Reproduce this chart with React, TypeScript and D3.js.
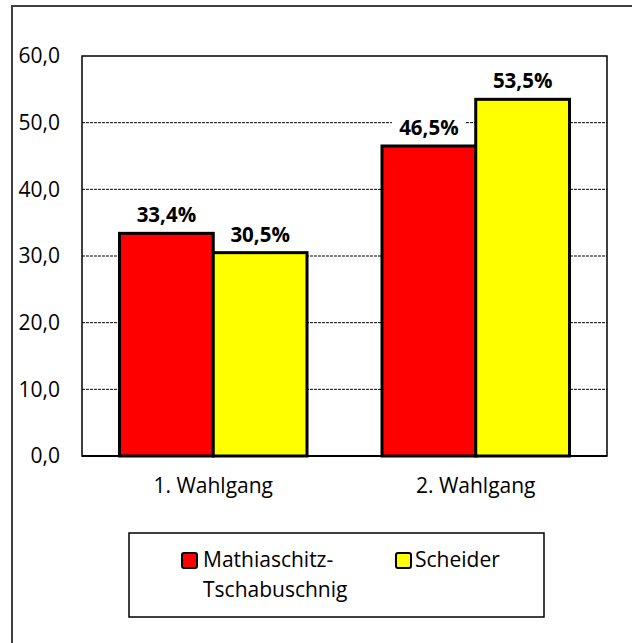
import React from "react";
import * as d3 from "d3";

const rounds = ["1. Wahlgang", "2. Wahlgang"];
const candidates = ["Mathiaschitz-Tschabuschnig", "Scheider"];
const mathiaschitz = [33.4, 46.5];
const scheider = [30.5, 53.5];
const yTicks = [0, 10, 20, 30, 40, 50, 60];
const colors = ["#ff0000", "#ffff00"];

const W = 632, H = 643;
const plot = { left: 82, top: 56, right: 607, bottom: 456 };
const font = "'Open Sans', sans-serif";

const comma = (v: number, f: string) => d3.format(f)(v).replace(".", ",");

export default function App() {
  const x0 = d3.scaleBand().domain(rounds).range([plot.left, plot.right]).padding(0);
  const band = x0.bandwidth();
  const gap = 37.5;
  const x1 = d3.scaleBand().domain(candidates).range([gap, band - gap]).padding(0);
  const y = d3.scaleLinear().domain([0, 60]).range([plot.bottom, plot.top]);
  const series = [mathiaschitz, scheider];

  return (
    <svg width={W} height={H} style={{ position: "absolute", left: 0, top: 0 }}>
      <rect x={0} y={0} width={W} height={H} fill="#fff" />
      {/* outer frame (only left/top visible) */}
      <rect x={12} y={6} width={W + 20} height={H + 20} fill="none" stroke="#404040" strokeWidth={2} />

      {/* grid */}
      {yTicks.filter(t => t > 0 && t < 60).map(t => (
        <line key={t} x1={plot.left} x2={plot.right} y1={y(t)} y2={y(t)}
          stroke="#000" strokeWidth={1} strokeDasharray="3,1" />
      ))}

      {/* bars */}
      {rounds.map((r, i) => (
        <g key={r} transform={`translate(${x0(r)},0)`}>
          {candidates.map((c, j) => {
            const v = series[j][i];
            return (
              <rect key={c} x={x1(c)} y={y(v)} width={x1.bandwidth()} height={plot.bottom - y(v)}
                fill={colors[j]} stroke="#000" strokeWidth={3} />
            );
          })}
        </g>
      ))}

      {/* plot frame */}
      <rect x={plot.left} y={plot.top} width={plot.right - plot.left} height={plot.bottom - plot.top}
        fill="none" stroke="#000" strokeWidth={1.5} />
      <line x1={plot.left} x2={plot.right} y1={plot.bottom} y2={plot.bottom} stroke="#000" strokeWidth={2} />

      {/* value labels */}
      {rounds.map((r, i) => candidates.map((c, j) => {
        const cx = x0(r)! + x1(c)! + x1.bandwidth() / 2;
        const v = series[j][i];
        return (
          <g key={r + c}>
            <rect x={cx - 37} y={y(v) - 33} width={74} height={22} fill="#fff" />
            <text x={cx} y={y(v) - 11} textAnchor="middle" fontFamily={font} fontSize={20.5}
              fontWeight="bold" fill="#000">{comma(v, ".1f")}%</text>
          </g>
        );
      }))}

      {/* y axis labels */}
      {yTicks.map(t => (
        <text key={t} x={60} y={y(t)} dy="0.35em" textAnchor="end" fontFamily={font} fontSize={21} fill="#000">
          {comma(t, ".1f")}
        </text>
      ))}

      {/* x axis labels */}
      {rounds.map(r => (
        <text key={r} x={x0(r)! + band / 2} y={493} textAnchor="middle" fontFamily={font} fontSize={21} fill="#000">{r}</text>
      ))}

      {/* legend */}
      <rect x={129} y={533} width={415} height={84} fill="#fff" stroke="#000" strokeWidth={1.5} />
      <rect x={182} y={553} width={15} height={15} rx={2} fill={colors[0]} stroke="#000" strokeWidth={2} />
      <text x={203} y={567} fontFamily={font} fontSize={21} fill="#000">Mathiaschitz-</text>
      <text x={203} y={597} fontFamily={font} fontSize={21} fill="#000">Tschabuschnig</text>
      <rect x={396} y={553} width={15} height={15} rx={2} fill={colors[1]} stroke="#000" strokeWidth={2} />
      <text x={415} y={567} fontFamily={font} fontSize={21} fill="#000">{candidates[1]}</text>
    </svg>
  );
}
